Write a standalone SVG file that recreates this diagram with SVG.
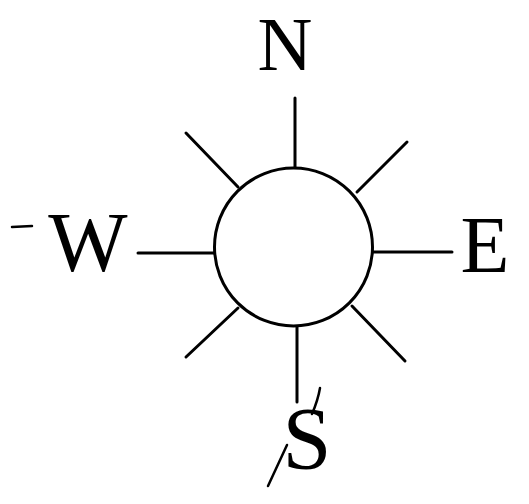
<svg xmlns="http://www.w3.org/2000/svg" width="529" height="504" viewBox="0 0 529 504">
<style>
.ray{stroke:#000;stroke-width:3;stroke-linecap:round;fill:none}
.mark{stroke:#000;stroke-width:2.5;stroke-linecap:round;fill:none}
.lbl{font-family:"Liberation Serif","DejaVu Serif",serif;fill:#000;text-anchor:middle}
</style>
<rect width="529" height="504" fill="#fff"/>
<g id="rays">
<line class="ray" x1="295" y1="98" x2="295" y2="167"/>
<line class="ray" x1="297" y1="327" x2="297" y2="402"/>
<line class="ray" x1="138" y1="253" x2="215" y2="253"/>
<line class="ray" x1="372" y1="252" x2="452" y2="252"/>
<line class="ray" x1="186" y1="133" x2="238" y2="187"/>
<line class="ray" x1="407" y1="142" x2="357" y2="192"/>
<line class="ray" x1="186" y1="357" x2="238" y2="308"/>
<line class="ray" x1="405" y1="361" x2="352" y2="306"/>
</g>
<g id="center">
<circle cx="293.5" cy="247" r="79" fill="#fff" stroke="#000" stroke-width="3"/>
</g>
<g id="north">
<text class="lbl" x="285" y="70" font-size="76">N</text>
</g>
<g id="west">
<text class="lbl" x="88" y="271" font-size="84">W</text>
<path class="mark" d="M12 227 L32 226"/>
</g>
<g id="east">
<text class="lbl" x="485" y="272" font-size="80">E</text>
</g>
<g id="south">
<text class="lbl" x="307" y="468" font-size="88">S</text>
<path class="mark" d="M268 486 L287 445 M312 414 Q318 400 320 388"/>
</g>
</svg>
